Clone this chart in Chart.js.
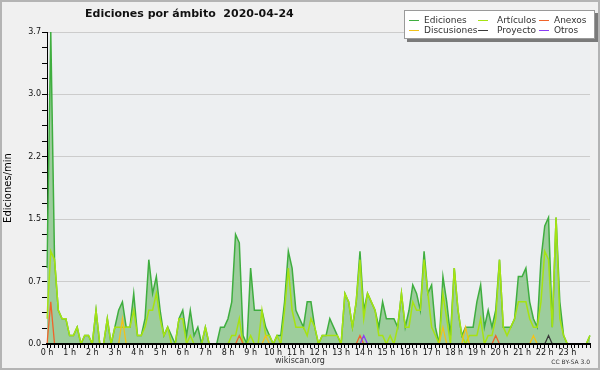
<!DOCTYPE html>
<html>
<head>
<meta charset="utf-8">
<script src="https://cdn.jsdelivr.net/npm/chart.js@4.4.0/dist/chart.umd.min.js"></script>
<style>
  html, body { margin: 0; padding: 0; background: #f0f0f0; }
  #wrap { position: relative; width: 600px; height: 370px; font-family: "DejaVu Sans", sans-serif; overflow: hidden; }
  #grafico { display: block; }
  #marco { position: absolute; left: 0; top: 0; width: 600px; height: 370px; box-sizing: border-box; border: 2px solid #b4b4b4; pointer-events: none; }
  #titulo { position: absolute; left: 85px; top: 7px; font-size: 11px; font-weight: bold; white-space: pre; color: #111; }
  #leyenda { position: absolute; left: 404px; top: 10px; width: 189px; height: 27px; background: #fff; border: 1px solid #9a9a9a; box-shadow: 3px 3px 0 #7a7a7a; }
  .item { position: absolute; font-size: 9px; line-height: 10px; color: #333; white-space: nowrap; }
  .raya { position: absolute; width: 10px; height: 0; border-top: 1px solid; }
  #pie { position: absolute; left: 0; width: 600px; text-align: center; top: 356px; font-size: 8px; color: #333; }
  #licencia { position: absolute; right: 10px; top: 358px; font-size: 6px; color: #333; }
</style>
</head>
<body>
<div id="wrap">
  <canvas id="grafico" width="600" height="370"></canvas>
  <div id="titulo">Ediciones por ámbito  2020-04-24</div>
  <div id="leyenda"></div>
  <div id="pie">wikiscan.org</div>
  <div id="licencia">CC BY-SA 3.0</div>
  <div id="marco"></div>
</div>
<script>
// ediciones por minuto, media de cada franja de 10 minutos (00:00 ... 24:00)
const ediciones = [
  0.9, 3.7, 1.0, 0.4, 0.3, 0.3, 0.1, 0.1, 0.2, 0.0, 0.1, 0.1,
  0.0, 0.4, 0.0, 0.0, 0.3, 0.0, 0.2, 0.4, 0.5, 0.2, 0.2, 0.6,
  0.1, 0.1, 0.3, 1.0, 0.6, 0.8, 0.4, 0.1, 0.2, 0.1, 0.0, 0.3,
  0.4, 0.1, 0.4, 0.1, 0.2, 0.0, 0.2, 0.0, 0.0, 0.0, 0.2, 0.2,
  0.3, 0.5, 1.3, 1.2, 0.1, 0.0, 0.9, 0.4, 0.4, 0.4, 0.2, 0.1,
  0.0, 0.1, 0.1, 0.5, 1.1, 0.9, 0.4, 0.3, 0.2, 0.5, 0.5, 0.2,
  0.0, 0.1, 0.1, 0.3, 0.2, 0.1, 0.0, 0.6, 0.5, 0.2, 0.5, 1.1,
  0.4, 0.6, 0.5, 0.4, 0.2, 0.5, 0.3, 0.3, 0.3, 0.2, 0.6, 0.2,
  0.4, 0.7, 0.6, 0.4, 1.1, 0.6, 0.7, 0.2, 0.0, 0.8, 0.5, 0.1,
  0.9, 0.4, 0.1, 0.2, 0.2, 0.2, 0.5, 0.7, 0.2, 0.4, 0.2, 0.4,
  1.0, 0.2, 0.2, 0.2, 0.3, 0.8, 0.8, 0.9, 0.5, 0.3, 0.2, 1.0,
  1.4, 1.5, 0.2, 1.5, 0.5, 0.1, 0.0, 0.0, 0.0, 0.0, 0.0, 0.0,
  0.1
];
const articulos = [
  0.3, 1.1, 1.0, 0.4, 0.3, 0.3, 0.1, 0.1, 0.2, 0.0, 0.1, 0.1,
  0.0, 0.4, 0.0, 0.0, 0.3, 0.0, 0.2, 0.2, 0.2, 0.2, 0.2, 0.4,
  0.1, 0.1, 0.2, 0.4, 0.4, 0.6, 0.3, 0.1, 0.2, 0.0, 0.0, 0.3,
  0.3, 0.0, 0.1, 0.0, 0.0, 0.0, 0.2, 0.0, 0.0, 0.0, 0.0, 0.0,
  0.0, 0.1, 0.1, 0.3, 0.0, 0.0, 0.1, 0.0, 0.0, 0.4, 0.1, 0.1,
  0.0, 0.1, 0.0, 0.4, 0.9, 0.4, 0.2, 0.2, 0.2, 0.1, 0.3, 0.2,
  0.0, 0.1, 0.1, 0.1, 0.1, 0.1, 0.0, 0.6, 0.5, 0.2, 0.5, 1.0,
  0.3, 0.6, 0.5, 0.4, 0.1, 0.1, 0.0, 0.1, 0.0, 0.2, 0.6, 0.2,
  0.2, 0.5, 0.4, 0.4, 1.0, 0.6, 0.2, 0.1, 0.0, 0.6, 0.3, 0.0,
  0.9, 0.4, 0.1, 0.0, 0.1, 0.1, 0.1, 0.3, 0.0, 0.1, 0.1, 0.3,
  1.0, 0.2, 0.1, 0.2, 0.3, 0.5, 0.5, 0.5, 0.3, 0.2, 0.2, 0.5,
  1.1, 1.0, 0.2, 1.5, 0.3, 0.1, 0.0, 0.0, 0.0, 0.0, 0.0, 0.0,
  0.1
];
const anexos = [
  0, 0.5, 0, 0, 0, 0, 0, 0, 0, 0, 0, 0,
  0, 0, 0, 0, 0, 0, 0, 0, 0, 0, 0, 0,
  0, 0, 0, 0, 0, 0, 0, 0, 0, 0, 0, 0,
  0, 0, 0, 0, 0, 0, 0, 0, 0, 0, 0, 0,
  0, 0, 0, 0.1, 0, 0, 0, 0, 0, 0, 0, 0,
  0, 0, 0, 0, 0, 0, 0, 0, 0, 0, 0, 0,
  0, 0, 0, 0, 0, 0, 0, 0, 0, 0, 0, 0.1,
  0, 0, 0, 0, 0, 0, 0, 0, 0, 0, 0, 0,
  0, 0, 0, 0, 0, 0, 0, 0, 0, 0, 0, 0,
  0, 0, 0, 0, 0, 0, 0, 0, 0, 0, 0, 0.1,
  0, 0, 0, 0, 0, 0, 0, 0, 0, 0, 0, 0,
  0, 0, 0, 0, 0, 0, 0, 0, 0, 0, 0, 0,
  0
];
const discusiones = [
  0, 0, 0, 0, 0, 0, 0, 0, 0, 0, 0, 0,
  0, 0, 0, 0, 0, 0, 0, 0, 0.3, 0, 0, 0,
  0, 0, 0, 0, 0, 0, 0, 0, 0, 0, 0, 0,
  0, 0, 0, 0, 0, 0, 0, 0, 0, 0, 0, 0,
  0, 0, 0, 0, 0, 0, 0, 0, 0, 0, 0.1, 0,
  0, 0, 0, 0, 0, 0, 0, 0, 0, 0, 0, 0,
  0, 0, 0, 0, 0, 0, 0, 0, 0, 0, 0, 0,
  0, 0, 0, 0, 0, 0, 0, 0, 0, 0, 0, 0,
  0, 0, 0, 0, 0, 0, 0, 0, 0, 0.2, 0, 0,
  0, 0, 0, 0.2, 0, 0, 0, 0, 0, 0, 0, 0,
  0, 0, 0, 0, 0, 0, 0, 0, 0, 0.1, 0, 0,
  0, 0, 0, 0, 0, 0, 0, 0, 0, 0, 0, 0,
  0
];
const proyecto = [
  0, 0, 0, 0, 0, 0, 0, 0, 0, 0, 0, 0,
  0, 0, 0, 0, 0, 0, 0, 0, 0, 0, 0, 0,
  0, 0, 0, 0, 0, 0, 0, 0, 0, 0, 0, 0,
  0, 0, 0, 0, 0, 0, 0, 0, 0, 0, 0, 0,
  0, 0, 0, 0, 0, 0, 0, 0, 0, 0, 0, 0,
  0, 0, 0, 0, 0, 0, 0, 0, 0, 0, 0, 0,
  0, 0, 0, 0, 0, 0, 0, 0, 0, 0, 0, 0,
  0, 0, 0, 0, 0, 0, 0, 0, 0, 0, 0, 0,
  0, 0, 0, 0, 0, 0, 0, 0, 0, 0, 0, 0,
  0, 0, 0, 0, 0, 0, 0, 0, 0, 0, 0, 0,
  0, 0, 0, 0, 0, 0, 0, 0, 0, 0, 0, 0,
  0, 0.1, 0, 0, 0, 0, 0, 0, 0, 0, 0, 0,
  0
];
const otros = [
  0, 0, 0, 0, 0, 0, 0, 0, 0, 0, 0, 0,
  0, 0, 0, 0, 0, 0, 0, 0, 0, 0, 0, 0,
  0, 0, 0, 0, 0, 0, 0, 0, 0, 0, 0, 0,
  0, 0, 0, 0, 0, 0, 0, 0, 0, 0, 0, 0,
  0, 0, 0, 0, 0, 0, 0, 0, 0, 0, 0, 0,
  0, 0, 0, 0, 0, 0, 0, 0, 0, 0, 0, 0,
  0, 0, 0, 0, 0, 0, 0, 0, 0, 0, 0, 0,
  0.1, 0, 0, 0, 0, 0, 0, 0, 0, 0, 0, 0,
  0, 0, 0, 0, 0, 0, 0, 0, 0, 0, 0, 0,
  0, 0, 0, 0, 0, 0, 0, 0, 0, 0, 0, 0,
  0, 0, 0, 0, 0, 0, 0, 0, 0, 0, 0, 0,
  0, 0, 0, 0, 0, 0, 0, 0, 0, 0, 0, 0,
  0
];

const horas = ["0 h", "1 h", "2 h", "3 h", "4 h", "5 h", "6 h", "7 h", "8 h", "9 h", "10 h", "11 h",
               "12 h", "13 h", "14 h", "15 h", "16 h", "17 h", "18 h", "19 h", "20 h", "21 h", "22 h", "23 h"];
const marcasY = [0, 0.74, 1.48, 2.22, 2.96, 3.7];

const nombres = ["Ediciones", "Artículos", "Anexos", "Discusiones", "Proyecto", "Otros"];
const colores = ["#3fae3f", "#a6e312", "#f0632a", "#f2c21a", "#3a3a3a", "#8a3cf5"];

// etiquetas de las franjas de 10 minutos
const franjas = [];
for (let i = 0; i <= 144; i++) {
  const h = Math.floor(i / 6), m = (i % 6) * 10;
  franjas.push(String(h).padStart(2, "0") + ":" + String(m).padStart(2, "0"));
}

// leyenda (3 columnas x 2 filas)
const leyenda = document.getElementById("leyenda");
const colX = [4, 73, 134];
const filaY = [4, 14];
const orden = [[0, 0, 0], [1, 1, 0], [2, 2, 0], [3, 0, 1], [4, 1, 1], [5, 2, 1]];
orden.forEach(([s, c, f]) => {
  const raya = document.createElement("div");
  raya.className = "raya";
  raya.style.left = colX[c] + "px";
  raya.style.top = (filaY[f] + 5) + "px";
  raya.style.borderTopColor = colores[s];
  leyenda.appendChild(raya);
  const txt = document.createElement("div");
  txt.className = "item";
  txt.style.left = (colX[c] + 15 + (c === 1 ? 4 : 0)) + "px";
  txt.style.top = filaY[f] + "px";
  txt.textContent = nombres[s];
  leyenda.appendChild(txt);
});

const fondoArea = {
  id: "fondoArea",
  beforeDraw(chart) {
    const { ctx, chartArea: a } = chart;
    ctx.save();
    ctx.fillStyle = "#edeff1";
    ctx.fillRect(a.left, a.top, a.right - a.left, a.bottom - a.top);
    ctx.restore();
  }
};

function serie(idx, valores, extra) {
  return Object.assign({
    label: nombres[idx],
    data: valores,
    borderColor: colores[idx],
    borderWidth: 1.3,
    pointRadius: 0,
    tension: 0,
    fill: false
  }, extra || {});
}

const ctx = document.getElementById("grafico").getContext("2d");
new Chart(ctx, {
  type: "line",
  data: {
    labels: franjas,
    datasets: [
      serie(0, ediciones, { fill: "origin", backgroundColor: "#9dcd9d", borderWidth: 1.5, order: 10 }),
      serie(1, articulos, { borderWidth: 1.5, order: 6 }),
      serie(2, anexos, { order: 5 }),
      serie(3, discusiones, { order: 4 }),
      serie(4, proyecto, { order: 3 }),
      serie(5, otros, { order: 2 })
    ]
  },
  options: {
    responsive: false,
    animation: false,
    events: [],
    layout: { padding: { top: 32, right: 10, left: 0, bottom: 0 } },
    plugins: {
      legend: { display: false },
      title: { display: false },
      tooltip: { enabled: false }
    },
    scales: {
      x: {
        type: "category",
        offset: false,
        border: { display: true, color: "#000", width: 2, z: 1 },
        grid: { color: "rgba(0,0,0,0)", tickColor: "#000", tickLength: 4, drawOnChartArea: false },
        ticks: {
          autoSkip: false,
          maxRotation: 0,
          minRotation: 0,
          padding: 0,
          color: "#111",
          font: { family: "DejaVu Sans", size: 8 },
          callback: function(value, index) {
            return index % 6 === 0 && index < 144 ? horas[index / 6] : "";
          }
        },
        afterFit: function(scale) { scale.height = 26; }
      },
      y: {
        type: "linear",
        min: 0,
        max: 3.7,
        afterBuildTicks: function(axis) {
          const t = [];
          for (let k = 0; k < marcasY.length; k++) {
            t.push({ value: marcasY[k] });
            if (k < marcasY.length - 1) {
              const paso = (marcasY[k + 1] - marcasY[k]) / 4;
              for (let j = 1; j < 4; j++) t.push({ value: marcasY[k] + paso * j });
            }
          }
          axis.ticks = t;
        },
        border: { display: true, color: "#000", width: 1 },
        grid: {
          color: function(c) { return (c.index % 4 === 0 && c.index > 0) ? "#cccccc" : "rgba(0,0,0,0)"; },
          tickColor: "#000",
          tickLength: 5
        },
        ticks: {
          autoSkip: false,
          padding: 1,
          color: "#111",
          font: { family: "DejaVu Sans", size: 8 },
          callback: function(value, index) {
            return index % 4 === 0 ? value.toFixed(1) : "";
          }
        },
        title: {
          display: true,
          text: "Ediciones/min",
          color: "#000",
          font: { family: "DejaVu Sans", size: 10 },
          padding: { top: 2, bottom: 0 }
        },
        afterFit: function(scale) { scale.width = 47; }
      }
    }
  },
  plugins: [fondoArea]
});
</script>
</body>
</html>
